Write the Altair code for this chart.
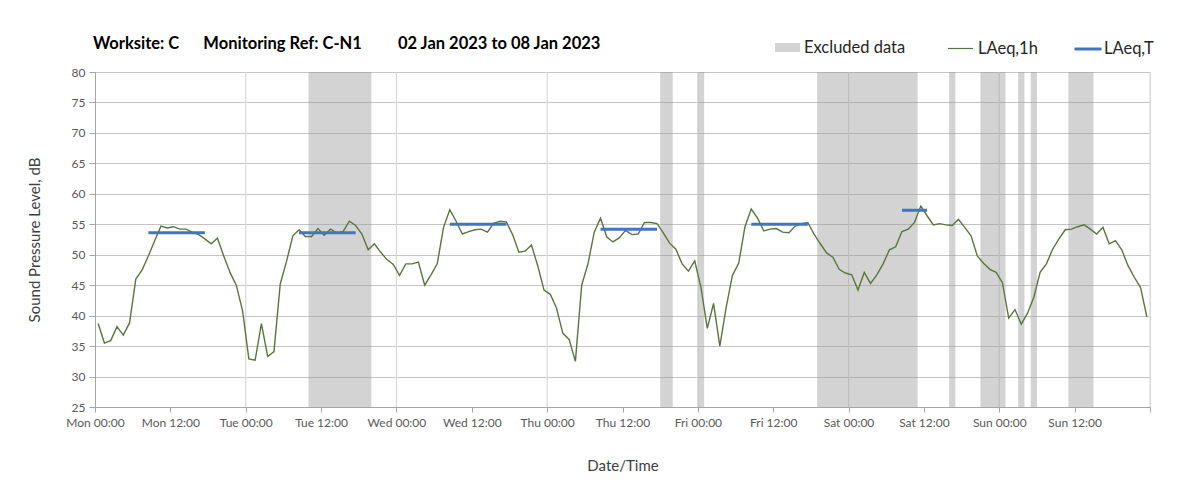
import altair as alt
import pandas as pd

# ---- data ----
laeq_1h = [38.7, 35.5, 35.9, 38.2, 36.8, 38.8, 46.0, 47.5, 49.8, 52.3,
           54.7, 54.4, 54.6, 54.2, 54.2, 53.7, 53.3, 52.6, 51.8, 52.7,
           49.8, 47.1, 45.0, 40.8, 32.9, 32.7, 38.7, 33.3, 34.1, 45.2,
           48.9, 53.1, 54.1, 53.0, 53.0, 54.3, 53.2, 54.2, 53.6, 53.8,
           55.5, 54.8, 53.4, 50.8, 51.8, 50.4, 49.2, 48.4, 46.6, 48.5,
           48.5, 48.8, 45.0, 46.7, 48.5, 54.5, 57.4, 55.5, 53.4, 53.8,
           54.1, 54.2, 53.7, 55.2, 55.5, 55.4, 53.3, 50.4, 50.6, 51.6,
           48.2, 44.2, 43.5, 41.2, 37.1, 36.1, 32.5, 45.0, 48.5, 53.7,
           56.0, 52.9, 52.1, 52.8, 54.0, 53.3, 53.4, 55.3, 55.3, 55.1,
           53.6, 51.9, 50.9, 48.5, 47.3, 49.0, 44.6, 37.9, 42.0, 35.0,
           41.3, 46.6, 48.6, 54.6, 57.5, 56.0, 53.9, 54.2, 54.3, 53.7,
           53.6, 54.7, 55.1, 55.3, 53.4, 51.8, 50.3, 49.6, 47.6, 47.0,
           46.7, 44.2, 47.1, 45.3, 46.7, 48.5, 50.8, 51.3, 53.8, 54.2,
           55.3, 58.0, 56.4, 54.9, 55.1, 54.9, 54.8, 55.8, 54.5, 53.1,
           49.8, 48.6, 47.6, 47.1, 45.4, 39.6, 41.0, 38.6, 40.4, 43.0,
           47.1, 48.5, 50.9, 52.6, 54.1, 54.2, 54.6, 54.9, 54.2, 53.4,
           54.5, 51.8, 52.3, 50.8, 48.2, 46.3, 44.6, 39.8]

# hours since Mon 00:00 (start/end of excluded periods)
excl_start = [34, 90, 96, 115, 136, 141, 147, 149, 155]
excl_end = [44, 92, 97, 131, 137, 145, 148, 150, 159]

# LAeq,T periods (hour positions of first/last hourly point) and levels
lt_start = [8.5, 32.5, 56.5, 80.5, 104.5, 128.5]
lt_end = [17.5, 41.5, 65.5, 89.5, 113.5, 132.5]
lt_level = [53.6, 53.6, 55.0, 54.2, 55.0, 57.3]

day_names = ["Mon", "Tue", "Wed", "Thu", "Fri", "Sat", "Sun"]
x_ticks = list(range(0, 169, 12))
day_bounds = list(range(24, 169, 24))
y_ticks = list(range(25, 81, 5))

FONT = "Lato"

line_df = pd.DataFrame({"hour": [k + 0.5 for k in range(len(laeq_1h))],
                        "level": laeq_1h, "series": "LAeq,1h"})
excl_df = pd.DataFrame({"start": excl_start, "end": excl_end, "series": "Excluded data"})
lt_df = pd.DataFrame({"start": lt_start, "end": lt_end, "level": lt_level, "series": "LAeq,T"})
vgrid_df = pd.DataFrame({"hour": day_bounds})

names_js = "[" + ",".join("'%s'" % d for d in day_names) + "]"
label_expr = ("datum.value >= 168 ? '' : " + names_js +
              "[floor(datum.value/24)] + (datum.value % 24 == 0 ? ' 00:00' : ' 12:00')")

x_scale = alt.Scale(domain=[0, 168], nice=False, zero=False)
y_scale = alt.Scale(domain=[25, 80], nice=False, zero=False)

x_axis = alt.Axis(values=x_ticks, labelExpr=label_expr, grid=False, tickSize=5,
                  tickColor="#a6a6a6", domainColor="#a6a6a6", labelFont=FONT,
                  labelFontSize=12, labelColor="#595959", labelPadding=5,
                  labelFlush=False, labelOverlap=False,
                  title="Date/Time", titleFont=FONT, titleFontSize=15,
                  titleFontWeight="normal", titleColor="#404040", titlePadding=30)
y_axis = alt.Axis(values=y_ticks, grid=True, gridColor="#c4c4c4", tickSize=6,
                  tickColor="#a6a6a6", domainColor="#a6a6a6", labelFont=FONT,
                  labelFontSize=12, labelColor="#595959", labelPadding=4,
                  title="Sound Pressure Level, dB", titleFont=FONT, titleFontSize=15,
                  titleFontWeight="normal", titleColor="#404040", titlePadding=29)

vgrid = alt.Chart(vgrid_df).mark_rule(color="#d9d9d9", strokeWidth=1.2).encode(
    x=alt.X("hour:Q", scale=x_scale, axis=x_axis)
)

LEG_FS = 16.5

shade = alt.Chart(excl_df).mark_rect(opacity=0.45).encode(
    x=alt.X("start:Q", scale=x_scale, axis=x_axis),
    x2="end:Q",
    color=alt.Color("series:N",
                    scale=alt.Scale(domain=["Excluded data"], range=["#9d9d9d"]),
                    legend=alt.Legend(orient="none", legendX=680, legendY=-37, title=None,
                                      symbolType="M-1,-0.36H1V0.36H-1Z", symbolSize=625,
                                      symbolOpacity=0.45, symbolStrokeWidth=0,
                                      labelFont=FONT, labelFontSize=LEG_FS,
                                      labelColor="#262626", padding=0)),
)

line = alt.Chart(line_df).mark_line(strokeWidth=1.4, color="#58773c").encode(
    x=alt.X("hour:Q", scale=x_scale, axis=x_axis),
    y=alt.Y("level:Q", scale=y_scale, axis=y_axis),
    color=alt.Color("series:N",
                    scale=alt.Scale(domain=["LAeq,1h"], range=["#58773c"]),
                    legend=alt.Legend(orient="none", legendX=852, legendY=-37, title=None,
                                      symbolType="stroke", symbolSize=625,
                                      symbolStrokeWidth=1.2,
                                      labelFont=FONT, labelFontSize=LEG_FS,
                                      labelColor="#262626", padding=0)),
)

lt = alt.Chart(lt_df).mark_rule(strokeWidth=3).encode(
    x=alt.X("start:Q", scale=x_scale, axis=x_axis),
    x2="end:Q",
    y=alt.Y("level:Q", scale=y_scale, axis=y_axis),
    color=alt.Color("series:N",
                    scale=alt.Scale(domain=["LAeq,T"], range=["#4472c4"]),
                    legend=alt.Legend(orient="none", legendX=978, legendY=-38, title=None,
                                      symbolType="stroke", symbolSize=729,
                                      symbolStrokeWidth=3, labelOffset=1,
                                      labelFont=FONT, labelFontSize=LEG_FS,
                                      labelColor="#262626", padding=0)),
)

nb = "\u00a0"
title_text = ("Worksite: C" + nb * 6 + "Monitoring Ref: C-N1" + nb * 9 +
              "02 Jan 2023 to 08 Jan 2023")

chart = alt.layer(vgrid, shade, line, lt).resolve_scale(color="independent").properties(
    width=1055,
    height=335,
    autosize=alt.AutoSizeParams(type="none"),
    padding={"left": 87, "top": 64, "right": 45, "bottom": 81},
    title=alt.TitleParams(title_text, anchor="start", frame="group", font=FONT,
                          fontSize=16.5, fontWeight="bold", color="#000000",
                          baseline="alphabetic", offset=-31, dx=-2),
).configure_view(strokeWidth=0).configure(background="white")

chart.save("out.html", embed_options={"renderer": "svg", "actions": False})
